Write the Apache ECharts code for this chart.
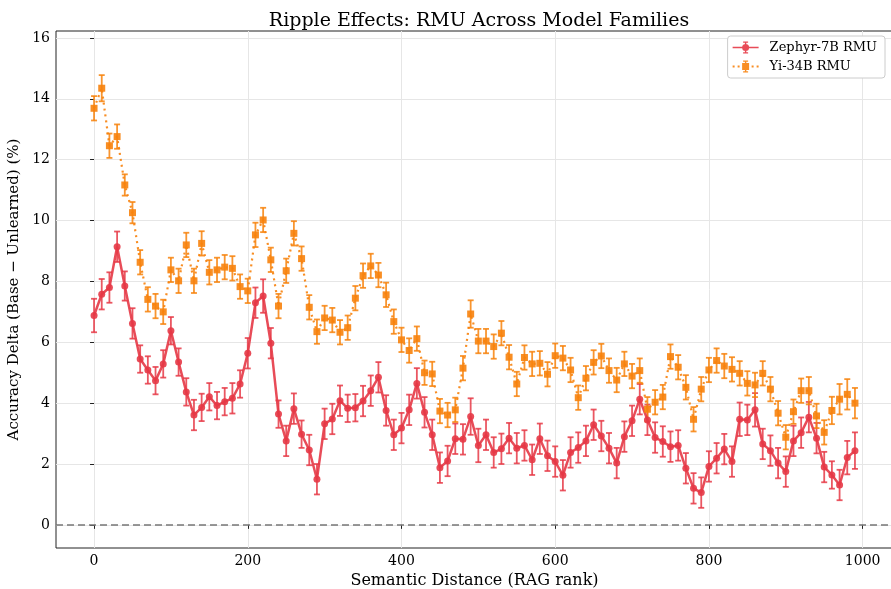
<!DOCTYPE html>
<html>
<head>
<meta charset="utf-8">
<script src="https://cdn.jsdelivr.net/npm/echarts@6/dist/echarts.min.js"></script>
<style>html,body{margin:0;padding:0;background:#fff;overflow:hidden}#c{width:891px;height:589px}</style>
</head>
<body>
<div id="c"></div>
<script>
const distances = [0,10,20,30,40,50,60,70,80,90,100,110,120,130,140,150,160,170,180,190,200,210,220,230,240,250,260,270,280,290,300,310,320,330,340,350,360,370,380,390,400,410,420,430,440,450,460,470,480,490,500,510,520,530,540,550,560,570,580,590,600,610,620,630,640,650,660,670,680,690,700,710,720,730,740,750,760,770,780,790,800,810,820,830,840,850,860,870,880,890,900,910,920,930,940,950,960,970,980,990];
const zephyr = [6.88,7.58,7.80,9.14,7.85,6.62,5.45,5.09,4.74,5.29,6.38,5.35,4.37,3.61,3.86,4.21,3.92,4.05,4.16,4.63,5.64,7.30,7.52,5.97,3.64,2.76,3.82,2.98,2.46,1.50,3.32,3.48,4.08,3.83,3.85,4.07,4.41,4.85,3.76,2.96,3.18,3.78,4.65,3.70,2.96,1.88,2.10,2.83,2.81,3.56,2.61,2.96,2.38,2.50,2.85,2.52,2.61,2.14,2.83,2.27,2.08,1.63,2.38,2.54,2.76,3.29,2.92,2.52,2.03,2.90,3.42,4.13,3.45,2.87,2.74,2.57,2.61,1.86,1.20,1.06,1.92,2.19,2.49,2.08,3.47,3.45,3.78,2.66,2.44,2.03,1.75,2.76,3.03,3.54,2.85,1.90,1.64,1.31,2.21,2.44];
const zephyrErr = [0.55,0.5,0.5,0.5,0.48,0.5,0.45,0.45,0.45,0.45,0.45,0.45,0.45,0.5,0.45,0.45,0.45,0.45,0.5,0.45,0.5,0.5,0.55,0.5,0.45,0.5,0.5,0.45,0.5,0.5,0.5,0.5,0.5,0.45,0.45,0.5,0.5,0.5,0.5,0.5,0.5,0.5,0.5,0.5,0.5,0.5,0.5,0.5,0.5,0.6,0.55,0.5,0.5,0.5,0.5,0.5,0.5,0.5,0.5,0.5,0.5,0.5,0.5,0.5,0.5,0.5,0.5,0.5,0.5,0.5,0.5,0.5,0.5,0.5,0.5,0.5,0.5,0.5,0.5,0.5,0.5,0.5,0.5,0.5,0.55,0.5,0.55,0.5,0.5,0.5,0.5,0.5,0.5,0.5,0.5,0.5,0.45,0.5,0.55,0.6];
const yi = [13.69,14.35,12.46,12.76,11.17,10.26,8.63,7.41,7.19,7.00,8.38,8.02,9.20,8.02,9.25,8.30,8.38,8.47,8.43,7.83,7.69,9.53,10.02,8.71,7.19,8.35,9.58,8.75,7.15,6.35,6.80,6.73,6.33,6.48,7.45,8.19,8.51,8.21,7.56,6.68,6.08,5.73,6.12,5.00,4.96,3.74,3.61,3.78,5.15,6.93,6.04,6.04,5.86,6.30,5.51,4.63,5.50,5.29,5.31,4.95,5.56,5.48,5.09,4.18,4.82,5.34,5.55,5.07,4.76,5.29,4.89,5.07,3.80,4.03,4.20,5.53,5.18,4.52,3.47,4.46,5.09,5.40,5.22,5.11,4.98,4.65,4.60,4.98,4.46,3.67,2.88,3.72,4.41,4.41,3.58,3.04,3.76,4.13,4.29,4.00];
const yiErr = [0.4,0.43,0.4,0.4,0.35,0.35,0.4,0.4,0.4,0.4,0.4,0.4,0.4,0.4,0.4,0.4,0.4,0.4,0.4,0.4,0.4,0.4,0.4,0.4,0.4,0.4,0.4,0.4,0.4,0.4,0.4,0.4,0.4,0.4,0.4,0.4,0.4,0.4,0.4,0.4,0.4,0.4,0.4,0.4,0.4,0.4,0.4,0.4,0.4,0.45,0.4,0.4,0.4,0.4,0.4,0.4,0.4,0.4,0.4,0.4,0.4,0.4,0.4,0.4,0.4,0.4,0.4,0.4,0.4,0.4,0.4,0.4,0.4,0.4,0.4,0.4,0.4,0.4,0.4,0.4,0.4,0.4,0.4,0.4,0.4,0.4,0.4,0.4,0.4,0.4,0.4,0.4,0.4,0.45,0.4,0.4,0.45,0.5,0.5,0.5];
const xTicks = [0,200,400,600,800,1000];
const yTicks = [0,2,4,6,8,10,12,14,16];

const RED = '#e63946', ORANGE = '#f7820c';
const FONT = 'DejaVu Serif';

const BAR = 'M12.3,0 H13.7 V12 H12.3 Z M10.5,0 H15.5 V1.3 H10.5 Z M10.5,10.7 H15.5 V12 H10.5 Z ';
const ICON_RED = 'path://M0,5.2 H26 V6.8 H0 Z ' + BAR + 'M9.5,6 A3.5,3.5 0 1,1 16.5,6 A3.5,3.5 0 1,1 9.5,6 Z';
const ICON_ORANGE = 'path://M0,5.1 H2 V6.9 H0 Z M5,5.1 H7 V6.9 H5 Z M19,5.1 H21 V6.9 H19 Z M24,5.1 H26 V6.9 H24 Z ' + BAR + 'M9.5,2.5 H16.5 V9.5 H9.5 Z';

function pts(vals){ return distances.map((d,i)=>[d, vals[i]]); }
function errs(vals, e){ return distances.map((d,i)=>[d, vals[i]-e[i], vals[i]+e[i]]); }
function errSeries(name, vals, e, color){
  return {
    type:'custom', name: name, data: errs(vals,e), z: 3, silent:true,
    itemStyle:{color:color},
    renderItem: function(params, api){
      const x = api.value(0);
      const lo = api.coord([x, api.value(1)]);
      const hi = api.coord([x, api.value(2)]);
      const cap = 3;
      const st = {stroke: color, lineWidth: 1.8, opacity: 0.85};
      return {type:'group', children:[
        {type:'line', shape:{x1:lo[0],y1:lo[1],x2:hi[0],y2:hi[1]}, style:st},
        {type:'line', shape:{x1:lo[0]-cap,y1:lo[1],x2:lo[0]+cap,y2:lo[1]}, style:st},
        {type:'line', shape:{x1:hi[0]-cap,y1:hi[1],x2:hi[0]+cap,y2:hi[1]}, style:st}
      ]};
    }
  };
}

const chart = echarts.init(document.getElementById('c'), null, {renderer:'canvas'});
chart.setOption({
  animation:false,
  backgroundColor:'#fff',
  title:{text:'Ripple Effects: RMU Across Model Families', left:474, textAlign:'center', top:7,
    textStyle:{fontFamily:FONT, fontSize:19, fontWeight:'normal', color:'#000'}},
  grid:{left:56, right:-2, top:31, bottom:41, outerBoundsMode:'none', containLabel:false,
    show:true, borderColor:'#222', borderWidth:1},
  legend:{right:6, top:36, orient:'vertical', itemWidth:26, itemHeight:12, itemGap:6,
    backgroundColor:'#fff', borderColor:'#ccc', borderWidth:1, borderRadius:3, padding:[5,8,5,5],
    textStyle:{fontFamily:FONT, fontSize:13, color:'#000', padding:[0,0,0,6]},
    data:[{name:'Zephyr-7B RMU', icon:ICON_RED},{name:'Yi-34B RMU', icon:ICON_ORANGE}]},
  xAxis:{type:'value', min:-49.5, max:1039.5,
    name:'Semantic Distance (RAG rank)', nameLocation:'middle', nameGap:24,
    nameTextStyle:{fontFamily:FONT, fontSize:16, color:'#000'},
    axisLine:{show:false},
    axisTick:{show:true, inside:false, length:4, lineStyle:{color:'#222'}, customValues:xTicks},
    axisLabel:{fontFamily:FONT, fontSize:14, color:'#000', margin:6, customValues:xTicks,
      formatter:function(v){return String(v);}},
    splitLine:{show:true, lineStyle:{color:'#e6e6e6', width:1}}},
  yAxis:{type:'value', min:-0.76, max:16.23,
    name:'Accuracy Delta (Base \u2212 Unlearned) (%)', nameLocation:'middle', nameGap:30,
    nameTextStyle:{fontFamily:FONT, fontSize:15, color:'#000'},
    axisLine:{show:false},
    axisTick:{show:true, inside:false, length:4, lineStyle:{color:'#222'}, customValues:yTicks},
    axisLabel:{fontFamily:FONT, fontSize:14, color:'#000', margin:6, customValues:yTicks,
      formatter:function(v){return String(v);}},
    splitLine:{show:true, lineStyle:{color:'#e6e6e6', width:1}}},
  series:[
    errSeries('zephyr-err', zephyr, zephyrErr, RED),
    errSeries('yi-err', yi, yiErr, ORANGE),
    {type:'line', name:'Zephyr-7B RMU', data:pts(zephyr), z:4, symbol:'circle', symbolSize:7,
      color:RED,
      lineStyle:{color:RED, width:2.5, opacity:0.9}, itemStyle:{color:RED, opacity:0.9},
      markLine:{silent:true, symbol:'none', label:{show:false},
        lineStyle:{color:'#777', type:[7,4], width:1.6}, data:[{yAxis:0}]}},
    {type:'line', name:'Yi-34B RMU', data:pts(yi), z:4, symbol:'rect', symbolSize:7,
      color:ORANGE,
      lineStyle:{color:ORANGE, width:2.2, type:[2,4], opacity:0.9}, itemStyle:{color:ORANGE, opacity:0.9}}
  ]
});
</script>
</body>
</html>
